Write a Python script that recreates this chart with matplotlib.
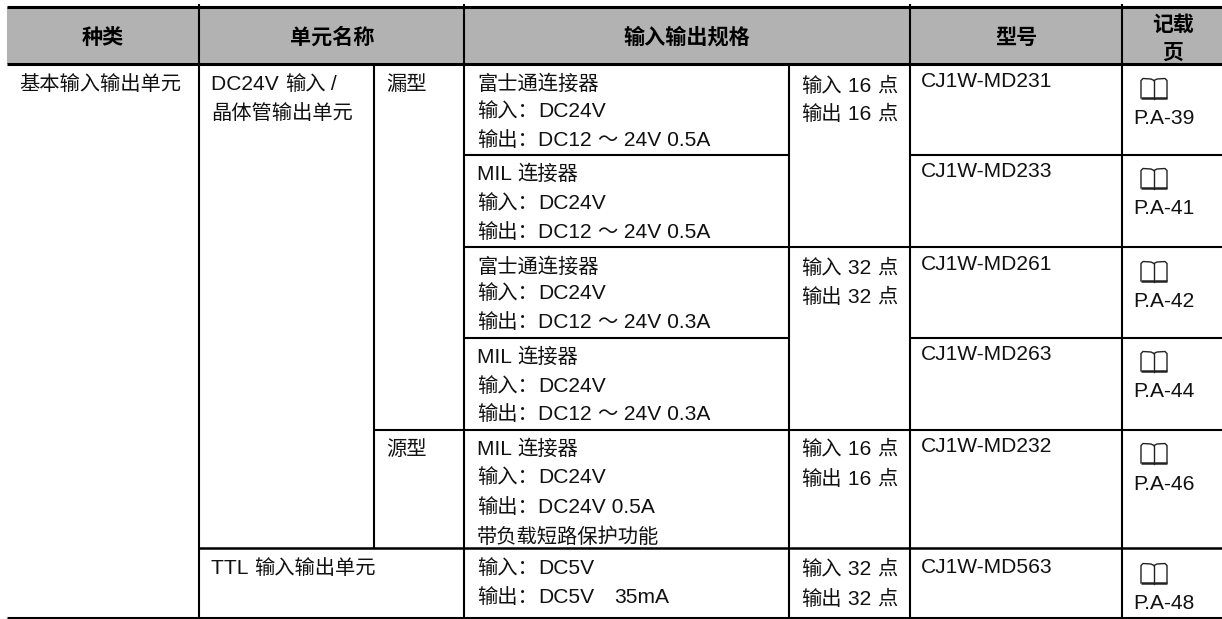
import matplotlib
matplotlib.use("Agg")
import matplotlib.pyplot as plt
from matplotlib.font_manager import FontProperties
from matplotlib.patches import Rectangle

W, H = 1222, 619

# table text
headers = ["种类", "单元名称", "输入输出规格", "型号"]
header_page = ["记载", "页"]
kinds = ["基本输入输出单元"]
units_a = ["DC24V 输入 /", "晶体管输出单元"]
units_b = ["TTL 输入输出单元"]
types = ["漏型", "源型"]
specs = [
    ["富士通连接器", "输入：DC24V", "输出：DC12 ～ 24V 0.5A"],
    ["MIL 连接器", "输入：DC24V", "输出：DC12 ～ 24V 0.5A"],
    ["富士通连接器", "输入：DC24V", "输出：DC12 ～ 24V 0.3A"],
    ["MIL 连接器", "输入：DC24V", "输出：DC12 ～ 24V 0.3A"],
    ["MIL 连接器", "输入：DC24V", "输出：DC24V 0.5A", "带负载短路保护功能"],
    ["输入：DC5V", "输出：DC5V　35mA"],
]
points = [
    ["输入 16 点", "输出 16 点"],
    ["输入 32 点", "输出 32 点"],
    ["输入 16 点", "输出 16 点"],
    ["输入 32 点", "输出 32 点"],
]
models = ["CJ1W-MD231", "CJ1W-MD233", "CJ1W-MD261", "CJ1W-MD263", "CJ1W-MD232", "CJ1W-MD563"]
pages = ["P.A-39", "P.A-41", "P.A-42", "P.A-44", "P.A-46", "P.A-48"]

# layout in pixels
row_y = [63.5, 155, 247, 338, 430, 548, 617.5]
spec_base = [[90, 117, 146], [180, 209, 238], [273, 299, 328], [363, 392, 420],
             [455, 483, 513, 543], [574, 603]]
point_base = [[92, 120], [274, 303], [455, 485], [575, 605]]
model_base = [87, 177, 270, 360, 452, 573]
page_base = [124, 214, 307, 397, 490, 609]
book_top = [78, 168, 261, 351, 443, 563]

fig = plt.figure(figsize=(W / 100, H / 100), dpi=100)
ax = fig.add_axes([0, 0, 1, 1])
ax.set_xlim(0, W)
ax.set_ylim(H, 0)
ax.axis("off")
renderer = fig.canvas.get_renderer()

LW = 1.5
HEAVY = 2.2
CJK_FS = 14.6
LATIN_FS = 15.1
cjk_font = FontProperties(family="Noto Sans CJK SC", size=CJK_FS)
latin_font = FontProperties(family="Liberation Sans", size=LATIN_FS)


def hline(y, x0, x1, lw=LW):
    ax.plot([x0, x1], [y, y], color="black", lw=lw, solid_capstyle="butt")


def vline(x, y0, y1, lw=LW):
    ax.plot([x, x], [y0, y1], color="black", lw=lw, solid_capstyle="butt")


def is_cjk(c):
    return ord(c) >= 0x2E80


def runs(s):
    out = []
    for c in s:
        if out and is_cjk(out[-1][-1]) == is_cjk(c):
            out[-1] += c
        else:
            out.append(c)
    return out


def latin_width(s):
    # the marker keeps trailing spaces in the measure
    a = renderer.get_text_width_height_descent(s + "|", latin_font, False)[0]
    b = renderer.get_text_width_height_descent("|", latin_font, False)[0]
    return a - b


# the chinese font is a bit smaller than the latin one, so each run is placed on its own
def put(x, y, s):
    for r in runs(s):
        if is_cjk(r[0]):
            ax.text(x, y, r, fontproperties=cjk_font, va="baseline", ha="left", color="#111111")
            x += len(r) * CJK_FS * 100 / 72
        else:
            ax.text(x, y, r, fontproperties=latin_font, va="baseline", ha="left", color="#111111")
            x += latin_width(r)


# U+1F56E is in none of the installed fonts, so the book sign is drawn
def book(x, y):
    w, h = 28, 21
    mid = x + w / 2
    for s in [-1, 1]:
        xs = [mid, mid + s * 3, mid + s * 11, mid + s * 13, mid + s * 13]
        ys = [y + 2.5, y + 1, y + 0.5, y + 2.5, y + h - 1]
        ax.plot(xs, ys, color="#222222", lw=1.0, solid_joinstyle="round")
    ax.plot([mid, mid], [y + 2.5, y + h], color="#222222", lw=1.0)
    ax.plot([x + 1, x + w - 1], [y + h - 1, y + h - 1], color="#222222", lw=1.8, solid_capstyle="butt")


# header
ax.add_patch(Rectangle((7, 6.5), W - 7, 57, facecolor="#b2b2b2", edgecolor="none"))
hline(6.5, 7, W, HEAVY)
hline(row_y[0], 7, W, HEAVY)
hline(row_y[6], 7, W, HEAVY)

header_x = [103, 332, 687, 1016]
for x, s in zip(header_x, headers):
    ax.text(x, 37, s, family="Noto Sans CJK SC", fontsize=15.2, fontweight="bold",
            ha="center", va="center")
ax.text(1173, 24, header_page[0], family="Noto Sans CJK SC", fontsize=15, fontweight="bold",
        ha="center", va="center")
ax.text(1173, 52, header_page[1], family="Noto Sans CJK SC", fontsize=15, fontweight="bold",
        ha="center", va="center")

# vertical rules
for x in [199, 464, 910, 1122]:
    vline(x, 4, row_y[6])
vline(374, row_y[0], row_y[5])
vline(789, row_y[0], row_y[6])

# horizontal rules
hline(row_y[1], 464, 789)
hline(row_y[1], 910, W)
hline(row_y[2], 464, W)
hline(row_y[3], 464, 789)
hline(row_y[3], 910, W)
hline(row_y[4], 374, W)
hline(row_y[5], 199, W, 1.8)

# text
put(19, 90, kinds[0])
put(211, 90, units_a[0])
put(211, 119, units_a[1])
put(211, 574, units_b[0])
put(386, 90, types[0])
put(386, 455, types[1])

for lines, bases in zip(specs, spec_base):
    for s, y in zip(lines, bases):
        put(477, y, s)
for lines, bases in zip(points, point_base):
    for s, y in zip(lines, bases):
        put(801, y, s)
for s, y in zip(models, model_base):
    put(921, y, s)
for s, y, t in zip(pages, page_base, book_top):
    book(1140, t)
    put(1133, y, s)

fig.savefig("out.png", dpi=100)
